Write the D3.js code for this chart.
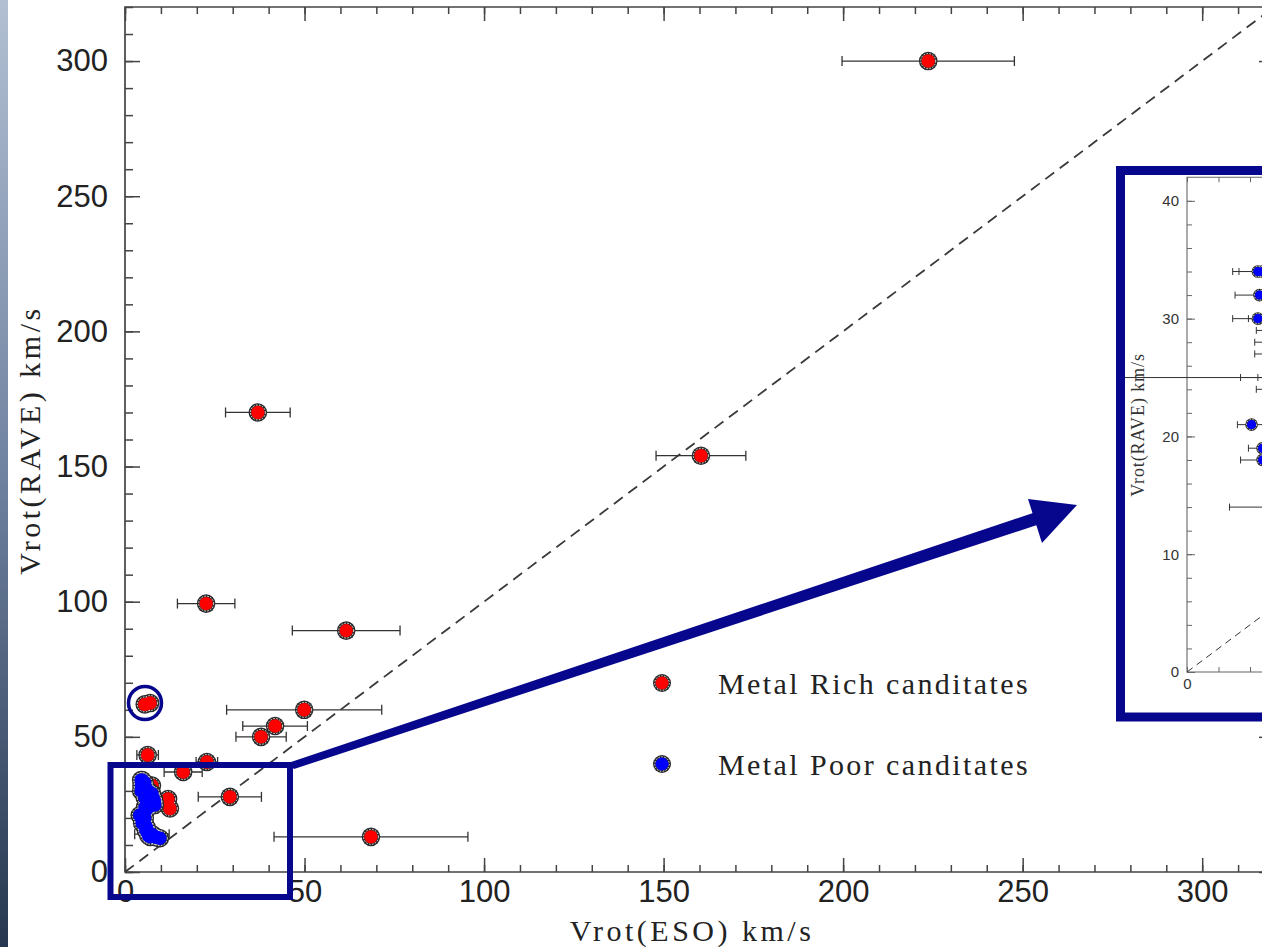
<!DOCTYPE html>
<html><head><meta charset="utf-8">
<script src="https://cdn.jsdelivr.net/npm/d3@7"></script>
<style>body{margin:0;background:#fff}svg{display:block}</style>
</head><body>
<script>
// ---- data ----
const xMajorTicks = [0, 50, 100, 150, 200, 250, 300];
const yMajorTicks = [0, 50, 100, 150, 200, 250, 300];
const minorTicks = d3.range(0, 321, 10);

const redX   = [223.7, 37, 160.4, 22.6, 61.6, 49.9, 41.8, 37.9, 22.8, 16.2, 29.2, 68.5, 5.5, 7, 6.3, 7.5, 12, 12.5];
const redY   = [300, 170, 154, 99.3, 89.3, 60, 54, 50, 40.7, 37, 27.8, 13, 62, 62.5, 43.3, 32, 27, 23.5];
const redErr = [24, 9, 12.5, 8, 15, 21.6, 9, 7, 3, 5.3, 8.8, 27, 1.5, 1.5, 3, 1.5, 2, 2];

const blueX   = [4.5, 4.8, 4.6, 4.5, 5.5, 6, 7, 8, 6.5, 5.6, 4.1, 4.8, 4.8, 5.5, 6, 7.5, 6.5, 8.5, 9.7, 5.5, 6.2,
                 5.6, 6.5, 7.5, 8.2, 8.3, 7, 6, 5.5, 5.6, 5.8, 6.2, 7, 8.8, 5.5];
const blueY   = [34, 34, 32, 30, 30, 29, 28, 27, 25, 24, 21, 19, 18, 22.5, 16.5, 14, 13.5, 13, 12.5, 33, 26,
                 31.5, 30, 29, 26, 24.8, 24.5, 23, 20, 17.5, 15.5, 14.8, 13, 12.8, 27.5];
const blueErr = [1.6, 1.5, 1.55, 1.6, 1.6, 1.6, 2.7, 3.7, 2, 1.2, 0.9, 0.9, 1.4, 0.4, 0.5, 4.8, 1.5, 1.5, 2, 0.5, 1.0,
                 0.4, 0.5, 0.5, 0.5, 0.5, 0.5, 0.5, 0.4, 0.4, 0.4, 0.5, 0.5, 0.5, 0.4];

// inset-only long error segments [y, low, high]
const insetExtraBars = [[25, -8, 14], [25, 3.4, 8]];
const insetYMajor = [0, 10, 20, 30, 40];
const insetYMinor = d3.range(0, 42, 2);
const insetXMinor = d3.range(0, 11, 2);

const legendLabels = ["Metal Rich canditates", "Metal Poor canditates"];
const legendColors = ["#ff0000", "#0000ff"];

// ---- setup ----
const W = 1262, H = 947;
const NAVY = "#07078e";
const svg = d3.select("body").append("svg").attr("width", W).attr("height", H);
const defs = svg.append("defs");
const grad = defs.append("linearGradient").attr("id", "strip").attr("x1", 0).attr("y1", 0).attr("x2", 0).attr("y2", 1);
grad.append("stop").attr("offset", "0%").attr("stop-color", "#b3c0d3");
grad.append("stop").attr("offset", "50%").attr("stop-color", "#6f82a0");
grad.append("stop").attr("offset", "100%").attr("stop-color", "#26374f");
svg.append("rect").attr("width", W).attr("height", H).attr("fill", "#fff");
svg.append("rect").attr("x", 0).attr("y", 0).attr("width", 8).attr("height", H).attr("fill", "url(#strip)");

const x = d3.scaleLinear().domain([0, 320]).range([125, 1274]);
const y = d3.scaleLinear().domain([0, 320]).range([872, 7]);

defs.append("clipPath").attr("id", "mainclip").append("rect")
  .attr("x", x(0)).attr("y", y(320)).attr("width", x(320) - x(0)).attr("height", y(0) - y(320));

const AX = "#444";
svg.append("path").attr("fill", "none").attr("stroke", AX).attr("stroke-width", 1.7)
  .attr("d", `M${x(320)},${y(320)}H${x(0)}V${y(0)}H${x(320)}V${y(320)}`);

function styleAxis(g) {
  g.select(".domain").remove();
  g.selectAll(".tick line").attr("stroke", AX).attr("stroke-width", 1.5);
}
svg.append("g").attr("transform", `translate(0,${y(0)})`)
  .call(d3.axisBottom(x).tickValues(minorTicks).tickSize(-7).tickFormat("")).call(styleAxis);
svg.append("g").attr("transform", `translate(0,${y(320)})`)
  .call(d3.axisTop(x).tickValues(minorTicks).tickSize(-7).tickFormat("")).call(styleAxis);
svg.append("g").attr("transform", `translate(${x(0)},0)`)
  .call(d3.axisLeft(y).tickValues(minorTicks).tickSize(-8).tickFormat("")).call(styleAxis);
svg.append("g").attr("transform", `translate(${x(320)},0)`)
  .call(d3.axisRight(y).tickValues(minorTicks).tickSize(-8).tickFormat("")).call(styleAxis);
const fontSans = "'Liberation Sans', Arial, sans-serif";
const gxb = svg.append("g").attr("transform", `translate(0,${y(0)})`)
  .call(d3.axisBottom(x).tickValues(xMajorTicks).tickSize(-14).tickPadding(8).tickFormat(d3.format("d"))).call(styleAxis);
gxb.selectAll("text").attr("font-family", fontSans).attr("font-size", 31).attr("fill", "#222");
svg.append("g").attr("transform", `translate(0,${y(320)})`)
  .call(d3.axisTop(x).tickValues(xMajorTicks).tickSize(-14).tickFormat("")).call(styleAxis);
const gyl = svg.append("g").attr("transform", `translate(${x(0)},0)`)
  .call(d3.axisLeft(y).tickValues(yMajorTicks).tickSize(-15).tickPadding(17).tickFormat(d3.format("d"))).call(styleAxis);
gyl.selectAll("text").attr("font-family", fontSans).attr("font-size", 31).attr("fill", "#222");
svg.append("g").attr("transform", `translate(${x(320)},0)`)
  .call(d3.axisRight(y).tickValues(yMajorTicks).tickSize(-15).tickFormat("")).call(styleAxis);

const fontSerif = "'Liberation Serif', 'Times New Roman', serif";
svg.append("text").attr("x", 692).attr("y", 941).attr("text-anchor", "middle")
  .attr("font-family", fontSerif).attr("font-size", 30).attr("letter-spacing", 3.5).attr("fill", "#222")
  .text("Vrot(ESO) km/s");
svg.append("text").attr("transform", "translate(40,440) rotate(-90)").attr("text-anchor", "middle")
  .attr("font-family", fontSerif).attr("font-size", 30).attr("letter-spacing", 3.5).attr("fill", "#222")
  .text("Vrot(RAVE) km/s");

// ---- main plot data ----
const mainG = svg.append("g").attr("clip-path", "url(#mainclip)");
mainG.append("line").attr("x1", x(0)).attr("y1", y(0)).attr("x2", x(320)).attr("y2", y(320))
  .attr("stroke", "#3a3a3a").attr("stroke-width", 1.8).attr("stroke-dasharray", "11,7");

const red = redX.map((v, i) => ({ x: v, y: redY[i], e: redErr[i] }));
const blue = blueX.map((v, i) => ({ x: v, y: blueY[i], e: blueErr[i] }));

function errorBars(g, data, sx, sy, cap, sw) {
  const gg = g.append("g").attr("stroke", "#333").attr("stroke-width", sw).attr("fill", "none");
  data.forEach(d => {
    const y0 = sy(d.y);
    gg.append("line").attr("x1", sx(d.x - d.e)).attr("x2", sx(d.x + d.e)).attr("y1", y0).attr("y2", y0);
    gg.append("line").attr("x1", sx(d.x - d.e)).attr("x2", sx(d.x - d.e)).attr("y1", y0 - cap).attr("y2", y0 + cap);
    gg.append("line").attr("x1", sx(d.x + d.e)).attr("x2", sx(d.x + d.e)).attr("y1", y0 - cap).attr("y2", y0 + cap);
  });
}
// three passes: dark rim, white dotted ring, colour fill
function markers(g, data, sx, sy, color, r) {
  const gg = g.append("g");
  gg.append("g").selectAll("circle").data(data).join("circle")
    .attr("cx", d => sx(d.x)).attr("cy", d => sy(d.y)).attr("r", r).attr("fill", "#2a2a2a");
  gg.append("g").selectAll("circle").data(data).join("circle")
    .attr("cx", d => sx(d.x)).attr("cy", d => sy(d.y)).attr("r", r * 0.8)
    .attr("fill", "none").attr("stroke", "#fff").attr("stroke-width", 0.9).attr("stroke-dasharray", "1.5,1.5");
  gg.append("g").selectAll("circle").data(data).join("circle")
    .attr("cx", d => sx(d.x)).attr("cy", d => sy(d.y)).attr("r", r * 0.72).attr("fill", color);
}
errorBars(mainG, red, x, y, 5, 1.3);
errorBars(mainG, blue, x, y, 5, 1.3);
markers(mainG, red, x, y, "#ff0000", 9.3);
markers(mainG, blue, x, y, "#0000ff", 9.3);

// ---- legend ----
const leg = svg.append("g");
legendLabels.forEach((lab, i) => {
  const ly = 683 + i * 81;
  markers(leg, [{ x: 662, y: ly }], v => v, v => v, legendColors[i], 9);
  leg.append("text").attr("x", 718).attr("y", ly + 11).attr("font-family", fontSerif)
    .attr("font-size", 30).attr("letter-spacing", 2.4).attr("fill", "#222").text(lab);
});

// ---- annotations ----
svg.append("rect").attr("x", 110.5).attr("y", 765).attr("width", 179.5).attr("height", 132)
  .attr("fill", "none").attr("stroke", NAVY).attr("stroke-width", 6);
svg.append("circle").attr("cx", 145).attr("cy", 703).attr("r", 16.5)
  .attr("fill", "none").attr("stroke", NAVY).attr("stroke-width", 3.5);
svg.append("path").attr("fill", NAVY)
  .attr("d", "M288,763 L1036,512 L1040,524 L294,769 Z");
svg.append("path").attr("fill", NAVY)
  .attr("d", "M1028,499 L1077,505 L1042,543 Z");

// ---- inset ----
const ix = d3.scaleLinear().domain([0, 10]).range([1187, 1344.5]);
const iy = d3.scaleLinear().domain([0, 42]).range([672, 177.3]);
svg.append("rect").attr("x", 1120.5).attr("y", 170.5).attr("width", 400).attr("height", 546.5)
  .attr("fill", "#fff").attr("stroke", NAVY).attr("stroke-width", 9);
defs.append("clipPath").attr("id", "insetclip").append("rect")
  .attr("x", 1125).attr("y", 175).attr("width", 400).attr("height", 537.5);
defs.append("clipPath").attr("id", "insetplot").append("rect")
  .attr("x", ix(0)).attr("y", iy(42)).attr("width", 400).attr("height", iy(0) - iy(42));
const IAX = "#666";
svg.append("path").attr("fill", "none").attr("stroke", IAX).attr("stroke-width", 1.1)
  .attr("d", `M${ix(10)},${iy(42)}H${ix(0)}V${iy(0)}H${ix(10)}`);
function styleI(g) {
  g.select(".domain").remove();
  g.selectAll(".tick line").attr("stroke", IAX).attr("stroke-width", 1);
}
svg.append("g").attr("transform", `translate(${ix(0)},0)`)
  .call(d3.axisLeft(iy).tickValues(insetYMinor).tickSize(-5).tickFormat("")).call(styleI);
const giy = svg.append("g").attr("transform", `translate(${ix(0)},0)`)
  .call(d3.axisLeft(iy).tickValues(insetYMajor).tickSize(-8).tickPadding(8).tickFormat(d3.format("d"))).call(styleI);
giy.selectAll("text").attr("font-family", fontSans).attr("font-size", 15).attr("fill", "#333");
const gix = svg.append("g").attr("transform", `translate(0,${iy(0)})`)
  .call(d3.axisBottom(ix).tickValues(insetXMinor).tickSize(-5).tickPadding(6).tickFormat(d => d === 0 ? "0" : "")).call(styleI);
gix.selectAll("text").attr("font-family", fontSans).attr("font-size", 15).attr("fill", "#333");
svg.append("g").attr("transform", `translate(0,${iy(42)})`)
  .call(d3.axisTop(ix).tickValues(insetXMinor).tickSize(-5).tickFormat("")).call(styleI);
svg.append("text").attr("transform", "translate(1144,425) rotate(-90)").attr("text-anchor", "middle")
  .attr("font-family", fontSerif).attr("font-size", 18).attr("letter-spacing", 0.9).attr("fill", "#333")
  .text("Vrot(RAVE) km/s");

const insetG = svg.append("g").attr("clip-path", "url(#insetclip)");
const insetP = insetG.append("g").attr("clip-path", "url(#insetplot)");
insetP.append("line").attr("x1", ix(0)).attr("y1", iy(0)).attr("x2", ix(42)).attr("y2", iy(42))
  .attr("stroke", "#333").attr("stroke-width", 1).attr("stroke-dasharray", "7,5");
const extra = insetExtraBars.map(b => ({ x: (b[1] + b[2]) / 2, y: b[0], e: (b[2] - b[1]) / 2 }));
errorBars(insetG, extra, ix, iy, 3.5, 1);
errorBars(insetP, blue, ix, iy, 3.5, 1);
errorBars(insetP, red, ix, iy, 3.5, 1);
markers(insetP, red, ix, iy, "#ff0000", 6.3);
markers(insetP, blue, ix, iy, "#0000ff", 6.3);
</script>
</body></html>
